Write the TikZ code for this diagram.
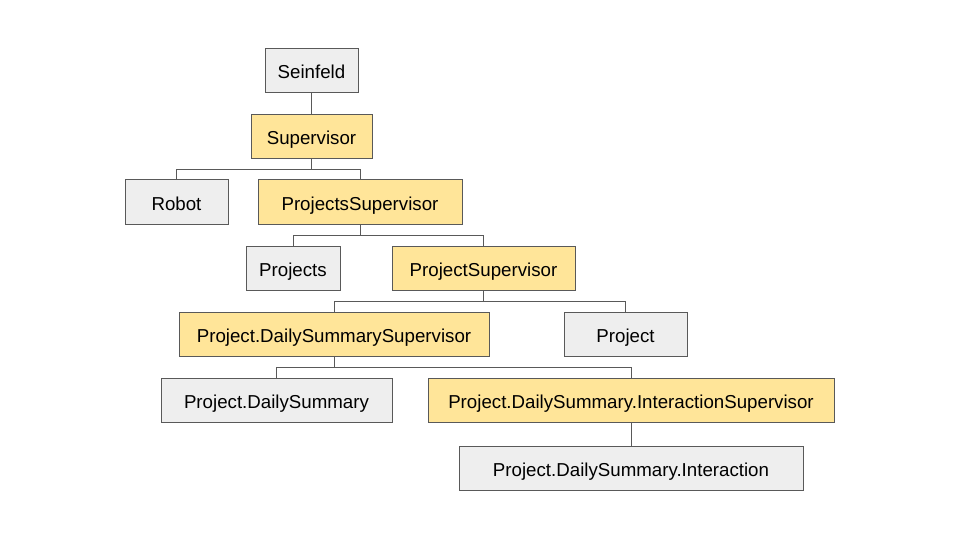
\documentclass[tikz,border=0pt]{standalone}
\usepackage{fontspec}
\setmainfont{Liberation Sans}
\usepackage{tikz}
\usetikzlibrary{calc}

\definecolor{supfill}{HTML}{FFE599}
\definecolor{actfill}{HTML}{EEEEEE}
\definecolor{edgegray}{HTML}{595959}

\tikzset{
	box/.style={draw=edgegray, line width=1pt, inner sep=0pt, minimum height=44,
		text height=16, text depth=0,
		font=\fontsize{18.7}{22}\selectfont},
	supbox/.style={box, fill=supfill},
	actbox/.style={box, fill=actfill},
	link/.style={draw=edgegray, line width=1pt}
}

\begin{document}
\begin{tikzpicture}[x=1pt, y=-1pt]
	% canvas
	\useasboundingbox (0,0) rectangle (960,540);
	\fill[white] (0,0) rectangle (960,540);
	
	\def\d{11} % drop from a box to its bus line
	
	% top of the tree
	\node[actbox, minimum width=93] (seinfeld) at (311.5,71) {Seinfeld};
	\node[supbox, minimum width=121] (sup) at (311.5,136.5) {Supervisor};
	
	% children of Supervisor
	\node[actbox, minimum width=103] (robot) at (176.5,202) {Robot};
	\node[supbox, minimum width=204] (projssup) at (360,202) {ProjectsSupervisor};
	
	% children of ProjectsSupervisor
	\node[actbox, minimum width=94] (projs) at (293,268) {Projects};
	\node[supbox, minimum width=183] (projsup) at (483.5,268) {ProjectSupervisor};
	
	% children of ProjectSupervisor
	\node[supbox, minimum width=310] (dssup) at (334,334) {Project.DailySummarySupervisor};
	\node[actbox, minimum width=123] (proj) at (625.5,334) {Project};
	
	% children of Project.DailySummarySupervisor
	\node[actbox, minimum width=231] (ds) at (276.5,400) {Project.DailySummary};
	\node[supbox, minimum width=406] (isup) at (631,400) {Project.DailySummary.InteractionSupervisor};
	
	% bottom leaf
	\node[actbox, minimum width=344] (inter) at (631,468) {Project.DailySummary.Interaction};
	
	% straight links
	\draw[link] (seinfeld.south) -- (sup.north);
	\draw[link] (isup.south) -- (inter.north);
	
	% elbow links
	\draw[link] (sup.south) -- ++(0,\d) -| (robot.north);
	\draw[link] (sup.south) -- ++(0,\d) -| (projssup.north);
	
	\draw[link] (projssup.south) -- ++(0,\d) -| (projs.north);
	\draw[link] (projssup.south) -- ++(0,\d) -| (projsup.north);
	
	\draw[link] (projsup.south) -- ++(0,\d) -| (dssup.north);
	\draw[link] (projsup.south) -- ++(0,\d) -| (proj.north);
	
	\draw[link] (dssup.south) -- ++(0,\d) -| (ds.north);
	\draw[link] (dssup.south) -- ++(0,\d) -| (isup.north);
\end{tikzpicture}
\end{document}
